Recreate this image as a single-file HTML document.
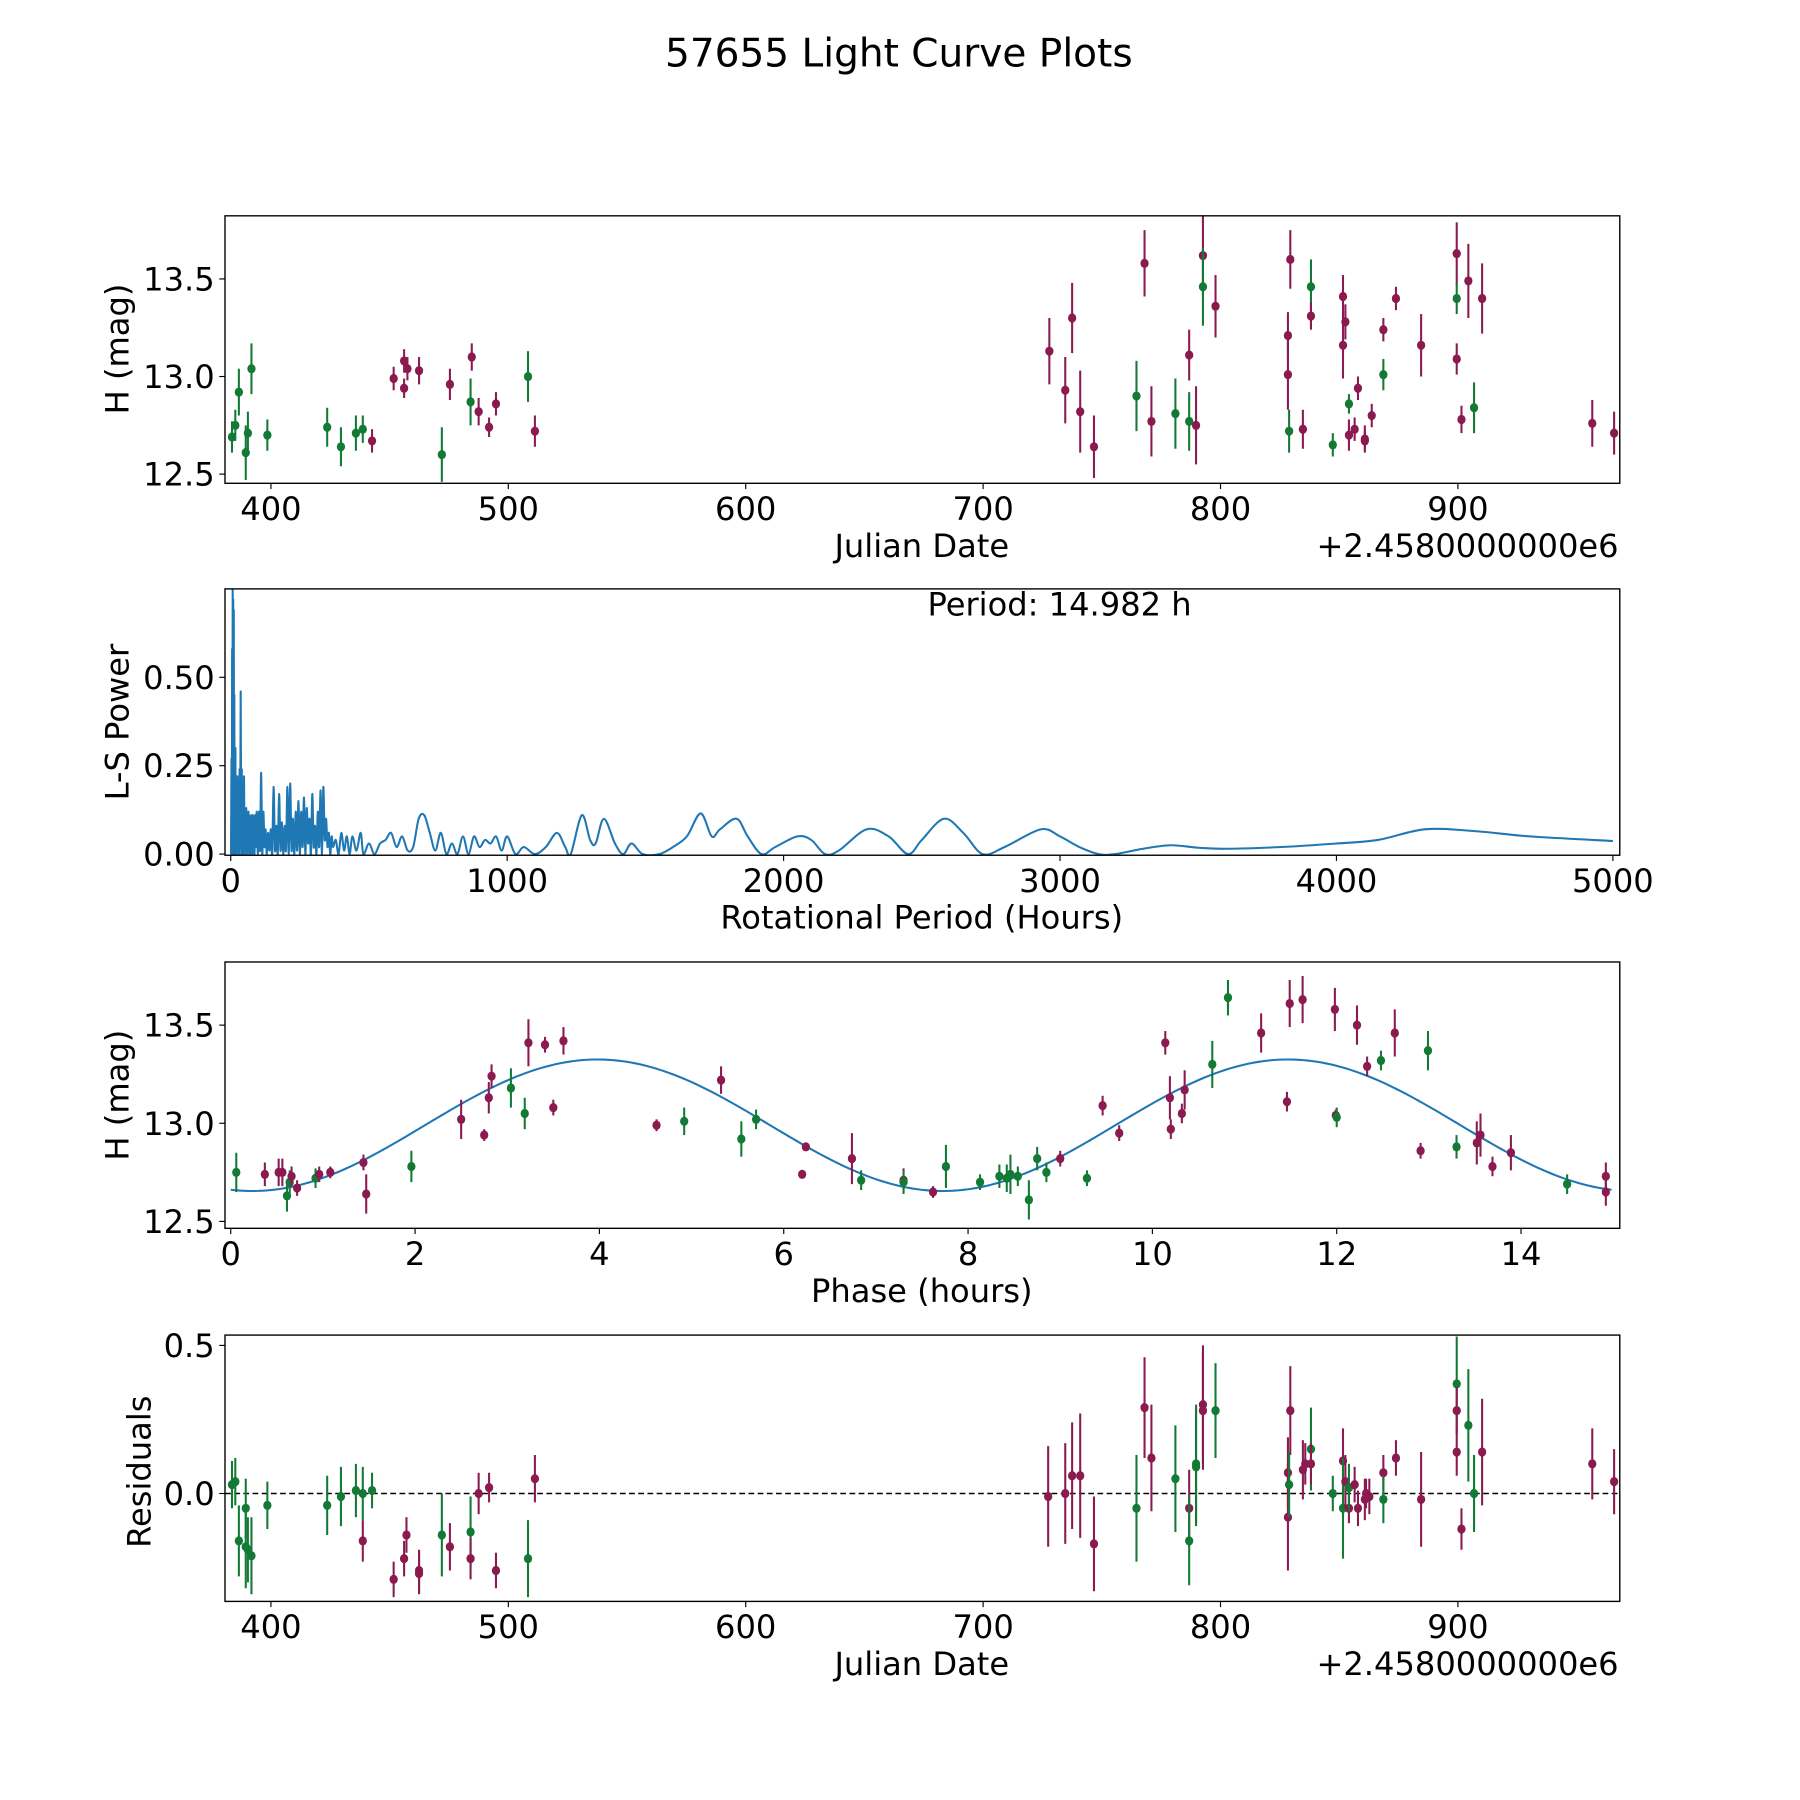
<!DOCTYPE html>
<html><head><meta charset="utf-8">
<style>
html,body{margin:0;padding:0;background:#fff;}
svg{display:block;}
text{font-family:"DejaVu Sans","Liberation Sans",sans-serif;fill:#000;}
</style></head>
<body>
<svg id="fig" width="1800" height="1800" viewBox="0 0 1568 1568" xmlns="http://www.w3.org/2000/svg">
<rect width="1568" height="1568" fill="#fff"/>
<text x="783" y="58" font-size="34" text-anchor="middle">57655 Light Curve Plots</text>
<g id="p1"></g>
<g id="p2"></g>
<g id="p3"></g>
<g id="p4"></g>
</svg>
<script>
// ---- Panel 1 data: Julian date offsets, magnitudes, errors, colour group (g=green, m=magenta)
const jd = [383.6,385.0,386.5,389.4,390.3,391.8,398.5,423.7,429.5,435.8,438.7,442.6,451.7,456.1,456.1,457.5,462.4,472.0,475.4,484.6,484.1,487.5,491.9,494.8,508.3,511.2,727.9,734.6,737.5,740.9,746.7,764.6,768.0,770.9,781.0,786.8,786.8,789.7,792.6,792.6,797.9,829.4,828.4,828.4,828.9,834.7,838.1,838.1,847.3,851.6,852.6,851.6,854.1,854.1,856.5,857.9,860.8,860.8,863.7,868.6,868.6,873.9,884.5,899.5,899.5,899.5,901.5,904.4,906.8,910.2,956.6,965.8];
const mag = [12.69,12.75,12.92,12.61,12.71,13.04,12.70,12.74,12.64,12.71,12.73,12.67,12.99,13.08,12.94,13.04,13.03,12.60,12.96,13.10,12.87,12.82,12.74,12.86,13.00,12.72,13.13,12.93,13.30,12.82,12.64,12.90,13.58,12.77,12.81,13.11,12.77,12.75,13.62,13.46,13.36,13.60,13.21,13.01,12.72,12.73,13.46,13.31,12.65,13.41,13.28,13.16,12.86,12.70,12.73,12.94,12.68,12.67,12.80,13.24,13.01,13.40,13.16,13.63,13.40,13.09,12.78,13.49,12.84,13.40,12.76,12.71];
const magErr = [0.08,0.08,0.12,0.14,0.11,0.13,0.08,0.10,0.10,0.09,0.07,0.06,0.06,0.06,0.05,0.06,0.07,0.14,0.08,0.07,0.12,0.07,0.05,0.06,0.13,0.08,0.17,0.17,0.18,0.21,0.16,0.18,0.17,0.18,0.18,0.13,0.15,0.20,0.20,0.20,0.16,0.15,0.12,0.18,0.11,0.10,0.14,0.07,0.06,0.11,0.09,0.17,0.05,0.08,0.06,0.06,0.07,0.05,0.06,0.06,0.08,0.06,0.16,0.16,0.08,0.08,0.07,0.19,0.13,0.18,0.12,0.11];
const grp1 = "gggggggggggmmmmmmgmmgmmmgmmmmmmgmmgmgmmgmmmmgmgmgmmmgmmmmmmmgmmmgmmmgmmmm";

// ---- Panel 2 data: periodogram (period in hours, L-S power), in matched chunks
const periodH = [].concat(
  [1,3,4,5,6,7,8,9,10,11],
  [12,13,14,15,16,17,18,19,20,21],
  [22,24,26,28,30,32,34,36,38,40],
  [42,44,46,48,50,52,54,56,58,60],
  [62,64,66,68,70,72,74,76,78,80],
  [82,84,86,88,90,94,98,102,106,110],
  [114,118,122,126,130,135,140,145,150,155],
  [160,165,170,175,180,185,190,195,200,205],
  [210,215,220,225,230,235,240,245,250,255],
  [260,265,270,275,280,285,290,295,300,305],
  [310,315,320,325,330,335,340,345,350,355],
  [360,365,370,380,390,400,410,420,430,440],
  [455,470,480,500,520,540,560,580,600,620],
  [640,660,680,700,720,740,760,780,800,820],
  [840,860,880,900,920,940,960,980,1000,1030],
  [1060,1100,1140,1180,1210,1230,1270,1300,1320,1350],
  [1390,1420,1450,1490,1550,1600,1650,1700,1740,1770],
  [1830,1870,1920,1970,2050,2100,2150,2200,2300,2380],
  [2450,2500,2580,2650,2720,2800,2930,3000,3070,3140],
  [3200,3300,3400,3500,3600,3800,4000,4150,4320,4500],
  [4700,5000]);
const power = [].concat(
  [0,0.27,0,0.58,0.05,0.75,0.1,0.72,0,0.69],
  [0.05,0.45,0,0.21,0.02,0.3,0,0.2,0.03,0.2],
  [0,0.22,0.01,0.2,0,0.24,0.02,0.46,0,0.24],
  [0.01,0.13,0,0.22,0.02,0.12,0,0.13,0.01,0.11],
  [0,0.12,0.01,0.11,0,0.1,0.01,0.11,0,0.11],
  [0.01,0.1,0,0.11,0.02,0.12,0,0.12,0.01,0.23],
  [0,0.12,0.02,0.07,0,0.06,0.01,0.07,0,0.19],
  [0.01,0.08,0,0.17,0.01,0.09,0,0.08,0.01,0.19],
  [0,0.2,0.01,0.1,0,0.12,0.01,0.15,0,0.12],
  [0.02,0.16,0,0.13,0.03,0.1,0,0.17,0.02,0.08],
  [0,0.12,0.02,0.18,0,0.19,0.04,0.1,0.02,0.06],
  [0,0.05,0.02,0.04,0,0.06,0.01,0.05,0,0.05],
  [0.01,0.06,0,0.03,0,0.03,0.04,0.06,0.02,0.05],
  [0.01,0.02,0.1,0.11,0.06,0.01,0.06,0,0.03,0],
  [0.05,0,0.05,0.02,0.04,0.03,0.05,0.01,0.05,0],
  [0.02,0,0.02,0.06,0.02,0,0.11,0.04,0.03,0.1],
  [0.03,0,0.03,0,0,0.02,0.05,0.115,0.05,0.07],
  [0.1,0.05,0,0.02,0.05,0.04,0,0.01,0.07,0.05],
  [0,0.04,0.1,0.06,0,0.02,0.07,0.05,0.02,0],
  [0,0.015,0.025,0.018,0.015,0.02,0.03,0.04,0.07,0.065],
  [0.05,0.037]);

// ---- Panel 3 data: phase (hours), magnitude, colour
const phase = [0.06,0.37,0.52,0.56,0.61,0.64,0.66,0.72,0.92,0.96,1.08,1.44,1.47,1.96,2.50,2.75,2.80,2.83,3.04,3.19,3.23,3.41,3.50,3.61,4.62,4.92,5.32,5.54,5.70,6.20,6.24,6.74,6.84,7.30,7.30,7.62,7.76,8.13,8.34,8.42,8.46,8.54,8.66,8.75,8.85,9.00,9.29,9.46,9.64,10.14,10.19,10.20,10.32,10.35,10.65,10.82,11.18,11.46,11.49,11.63,11.98,11.99,12.00,12.22,12.33,12.48,12.63,12.91,12.99,13.30,13.52,13.56,13.69,13.89,14.50,14.92,14.92];
const phaseMag = [12.75,12.74,12.75,12.75,12.63,12.70,12.73,12.67,12.72,12.74,12.75,12.80,12.64,12.78,13.02,12.94,13.13,13.24,13.18,13.05,13.41,13.40,13.08,13.42,12.99,13.01,13.22,12.92,13.02,12.74,12.88,12.82,12.71,12.71,12.70,12.65,12.78,12.70,12.73,12.72,12.74,12.73,12.61,12.82,12.75,12.82,12.72,13.09,12.95,13.41,13.13,12.97,13.05,13.17,13.30,13.64,13.46,13.11,13.61,13.63,13.58,13.04,13.03,13.50,13.29,13.32,13.46,12.86,13.37,12.88,12.90,12.94,12.78,12.85,12.69,12.65,12.73];
const phaseErr = [0.1,0.06,0.07,0.07,0.08,0.06,0.05,0.04,0.05,0.04,0.03,0.04,0.1,0.08,0.1,0.03,0.08,0.06,0.1,0.08,0.12,0.04,0.04,0.07,0.03,0.07,0.07,0.09,0.05,0.02,0.02,0.13,0.05,0.06,0.06,0.03,0.11,0.04,0.06,0.07,0.1,0.05,0.1,0.06,0.05,0.04,0.04,0.05,0.04,0.06,0.11,0.05,0.05,0.1,0.12,0.09,0.1,0.05,0.12,0.12,0.11,0.03,0.05,0.1,0.05,0.05,0.12,0.04,0.1,0.06,0.11,0.11,0.05,0.09,0.05,0.07,0.07];
const grp3 = "gmmmggmmgmmmmgmmmmggmmmmmgmggmmmgmgmgggggggggmgmmmmmmmggmmmmmmgmmgmmggmmmmgm";
const modelMean = 12.99, modelAmp = 0.335, modelPeriod = 7.491, modelPeak = 3.98;

// ---- Panel 4 data: residuals vs JD
const resJd = [383.6,385.0,386.5,389.4,389.4,390.3,391.8,398.5,423.7,429.5,435.8,438.7,438.7,442.6,451.7,456.1,457.1,462.4,462.4,472.0,475.4,484.1,484.1,487.5,491.9,494.8,508.3,511.2,727.4,734.6,737.5,740.9,746.7,764.6,768.0,770.9,781.0,786.8,786.8,789.7,789.7,792.6,792.6,797.9,828.4,828.4,829.4,828.9,834.7,835.7,838.1,838.1,847.3,851.6,851.6,852.6,854.1,854.1,856.5,857.9,860.8,861.3,862.7,868.6,868.6,873.9,884.5,899.5,899.5,899.5,901.5,904.4,906.8,910.2,956.6,965.8];
const resid = [0.03,0.04,-0.16,-0.05,-0.18,-0.19,-0.21,-0.04,-0.04,-0.01,0.01,-0.16,0.00,0.01,-0.29,-0.22,-0.14,-0.26,-0.27,-0.14,-0.18,-0.13,-0.22,0.00,0.02,-0.26,-0.22,0.05,-0.01,0.00,0.06,0.06,-0.17,-0.05,0.29,0.12,0.05,-0.05,-0.16,0.09,0.10,0.30,0.28,0.28,0.07,-0.08,0.28,0.03,0.08,0.10,0.15,0.10,0.00,0.11,-0.05,0.04,-0.05,0.02,0.03,-0.05,-0.02,0.00,-0.01,0.07,-0.02,0.12,-0.02,0.37,0.28,0.14,-0.12,0.23,0.00,0.14,0.10,0.04];
const residErr = [0.08,0.08,0.12,0.1,0.14,0.11,0.13,0.08,0.10,0.10,0.09,0.07,0.09,0.06,0.06,0.06,0.06,0.07,0.07,0.14,0.08,0.12,0.07,0.07,0.05,0.06,0.13,0.08,0.17,0.17,0.18,0.21,0.16,0.18,0.17,0.18,0.18,0.13,0.15,0.20,0.20,0.20,0.20,0.16,0.12,0.18,0.15,0.11,0.10,0.07,0.14,0.07,0.06,0.11,0.17,0.09,0.05,0.08,0.06,0.06,0.07,0.05,0.06,0.06,0.08,0.06,0.16,0.16,0.08,0.08,0.07,0.19,0.13,0.18,0.12,0.11];
const grp4 = "gggggggggggmggmmmmmgmgmmmmgmmmmmmgmmgmgggmmgmmmgmmgmgmgmmgmmmmmmgmmgmmmggmmmm";

const xTicksJd = [400,500,600,700,800,900];
const yTicksMag = [12.5,13.0,13.5];
const xTicksP = [0,1000,2000,3000,4000,5000];
const yTicksP = [0.00,0.25,0.50];
const xTicksPh = [0,2,4,6,8,10,12,14];
const yTicksRes = [0.0,0.5];

const NS = "http://www.w3.org/2000/svg";
const GREEN = "#127a35", MAG = "#8a1a4f", BLUE = "#1f77b4";
const FS = 28;
function el(parent, tag, attrs, txt){
  const e = document.createElementNS(NS, tag);
  for (const k in attrs) e.setAttribute(k, attrs[k]);
  if (txt !== undefined) e.textContent = txt;
  parent.appendChild(e); return e;
}
function lin(d0,d1,r0,r1){ return v => r0 + (v-d0)*(r1-r0)/(d1-d0); }

const L = 196, R = 1411;
function frame(g, top, bot){
  const f = el(g,'rect',{x:L,y:top,width:R-L,height:bot-top,fill:'none',stroke:'#000','stroke-width':1.2});
  
  
}
function xticks(g, ticks, sx, bot, fmt){
  ticks.forEach(t=>{
    const x = sx(t);
    el(g,'line',{x1:x,x2:x,y1:bot,y2:bot+5,stroke:'#000','stroke-width':1});
    const tx = el(g,'text',{x:x,y:bot+32,'font-size':FS,'text-anchor':'middle'}, fmt(t));
    
    
  });
}
function yticks(g, ticks, sy, fmt){
  ticks.forEach(t=>{
    const y = sy(t);
    el(g,'line',{x1:L-5,x2:L,y1:y,y2:y,stroke:'#000','stroke-width':1});
    const tx = el(g,'text',{x:L-9,y:y+10,'font-size':FS,'text-anchor':'end'}, fmt(t));
    
    
  });
}
function label(g, x, y, txt, name, rot, anchor){
  const a = {x:x,y:y,'font-size':FS,'text-anchor':anchor||'middle'};
  if (rot) a.transform = 'rotate(-90 '+x+' '+y+')';
  const t = el(g,'text',a,txt);
  
  
}
function points(g, xs, ys, es, grp, sx, sy, top, bot, name){
  const cg = el(g,'g',{});
  cg.setAttribute('clip-path','url(#clip'+top+')');
  const cp = el(document.getElementById('fig'),'clipPath',{id:'clip'+top});
  el(cp,'rect',{x:L,y:top,width:R-L,height:bot-top});
  xs.forEach((xv,i)=>{
    const c = grp[i]==='g'?GREEN:MAG;
    const x = sx(xv), y = sy(ys[i]);
    const ln = el(cg,'line',{x1:x,x2:x,y1:sy(ys[i]+es[i]),y2:sy(ys[i]-es[i]),stroke:c,'stroke-width':1.8});
    
    
    const p = el(cg,'ellipse',{cx:x,cy:y,rx:3.6,ry:4,fill:c});
    
    
  });
}

// Panel 1
(function(){
  const g = document.getElementById('p1'), top=188, bot=421;
  const sx = lin(400,900,236,1270), sy = lin(12.5,13.5,413,243);
  points(g, jd, mag, magErr, grp1, sx, sy, top, bot, 'data-point');
  frame(g, top, bot);
  xticks(g, xTicksJd, sx, bot, t=>String(t));
  yticks(g, yTicksMag, sy, t=>t.toFixed(1));
  label(g, 803, 485, 'Julian Date', 'x-axis-title');
  label(g, 1410, 485, '+2.4580000000e6', 'x-offset-label', false, 'end');
  label(g, 112, 304, 'H (mag)', 'y-axis-title', true);
})();

// Panel 2
(function(){
  const g = document.getElementById('p2'), top=513, bot=745;
  const sx = lin(0,5000,201,1405), sy = lin(0,0.5,744,590);
  const cp = el(document.getElementById('fig'),'clipPath',{id:'clipP2'});
  el(cp,'rect',{x:L,y:top,width:R-L,height:bot-top});
  const n = Math.min(periodH.length, power.length);
  const pts = [];
  for (let i=0;i<n;i++) pts.push([sx(periodH[i]), sy(power[i])]);
  let d = 'M' + pts[0][0].toFixed(2) + ' ' + pts[0][1].toFixed(2);
  for (let i=0;i<n-1;i++){
    const p0 = pts[Math.max(0,i-1)], p1 = pts[i], p2 = pts[i+1], p3 = pts[Math.min(n-1,i+2)];
    const c1x = p1[0] + (p2[0]-p0[0])/6, c1y = p1[1] + (p2[1]-p0[1])/6;
    const c2x = p2[0] - (p3[0]-p1[0])/6, c2y = p2[1] - (p3[1]-p1[1])/6;
    d += 'C' + c1x.toFixed(2)+' '+c1y.toFixed(2)+' '+c2x.toFixed(2)+' '+c2y.toFixed(2)+' '+p2[0].toFixed(2)+' '+p2[1].toFixed(2);
  }
  const path = el(g,'path',{d:d,fill:'none',stroke:BLUE,'stroke-width':1.8,'clip-path':'url(#clipP2)','stroke-linejoin':'round'});
  
  
  frame(g, top, bot);
  xticks(g, xTicksP, sx, bot, t=>String(t));
  yticks(g, yTicksP, sy, t=>t.toFixed(2));
  label(g, 803, 809, 'Rotational Period (Hours)', 'x-axis-title');
  label(g, 112, 629, 'L-S Power', 'y-axis-title', true);
  label(g, 923, 536, 'Period: 14.982 h', 'period-annotation');
})();

// Panel 3
(function(){
  const g = document.getElementById('p3'), top=838, bot=1070;
  const sx = lin(0,14,201,1325), sy = lin(12.5,13.5,1064,893);
  let d = '';
  for (let i=0;i<=300;i++){
    const ph = 14.982*i/300;
    const m = modelMean + modelAmp*Math.cos(2*Math.PI*(ph-modelPeak)/modelPeriod);
    d += (i?'L':'M') + sx(ph).toFixed(2) + ' ' + sy(m).toFixed(2);
  }
  const mp = el(g,'path',{d:d,fill:'none',stroke:BLUE,'stroke-width':1.8});
  
  
  points(g, phase, phaseMag, phaseErr, grp3, sx, sy, top, bot, 'phased-point');
  frame(g, top, bot);
  xticks(g, xTicksPh, sx, bot, t=>String(t));
  yticks(g, yTicksMag, sy, t=>t.toFixed(1));
  label(g, 803, 1134, 'Phase (hours)', 'x-axis-title');
  label(g, 112, 954, 'H (mag)', 'y-axis-title', true);
})();

// Panel 4
(function(){
  const g = document.getElementById('p4'), top=1163, bot=1395;
  const sx = lin(400,900,236,1270), sy = lin(0,0.5,1301,1172);
  const zl = el(g,'line',{x1:L,x2:R,y1:sy(0),y2:sy(0),stroke:'#000','stroke-width':1.3,'stroke-dasharray':'5,3'});
  
  
  points(g, resJd, resid, residErr, grp4, sx, sy, top, bot, 'residual-point');
  frame(g, top, bot);
  xticks(g, xTicksJd, sx, bot, t=>String(t));
  yticks(g, yTicksRes, sy, t=>t.toFixed(1));
  label(g, 803, 1459, 'Julian Date', 'x-axis-title');
  label(g, 1410, 1459, '+2.4580000000e6', 'x-offset-label', false, 'end');
  label(g, 131, 1282, 'Residuals', 'y-axis-title', true);
})();
</script>
</body></html>
